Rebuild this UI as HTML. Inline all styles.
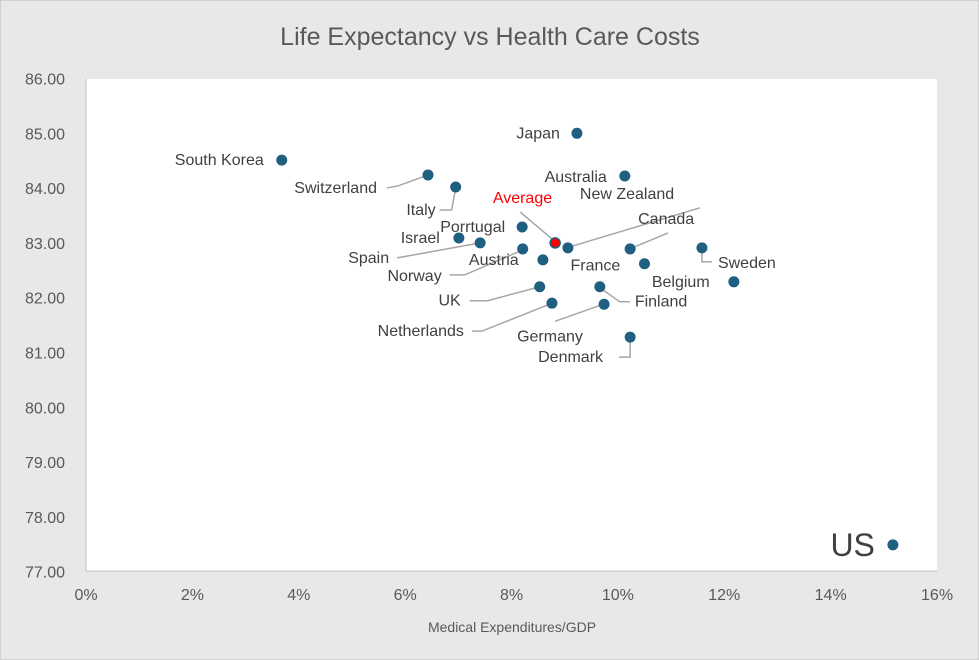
<!DOCTYPE html>
<html><head><meta charset="utf-8"><style>
html,body{margin:0;padding:0;background:#e8e8e8;}
svg{display:block;font-family:"Liberation Sans",sans-serif;}
</style></head><body>
<svg width="979" height="660">
<rect x="0.5" y="0.5" width="978" height="659" fill="#e8e8e8" stroke="#d0d0d0"/>
<text x="490" y="45" text-anchor="middle" font-size="25" fill="#595959">Life Expectancy vs Health Care Costs</text>
<rect x="86" y="79" width="851" height="492" fill="#fff"/>
<line x1="86" y1="79" x2="86" y2="571" stroke="#bfbfbf"/>
<line x1="86" y1="571" x2="937" y2="571" stroke="#bfbfbf"/>
<g id="ticks"></g>
<g id="leaders"></g>
<g id="points"></g>
<g id="labels"></g>
<text x="512" y="632" text-anchor="middle" font-size="14" fill="#595959">Medical Expenditures/GDP</text>
</svg>
<script>
const countries=["South Korea","Switzerland","Italy","Japan","Australia","Porrtugal","Israel","Spain","Average","New Zealand","Norway","Austria","Canada","Sweden","France","Belgium","UK","Finland","Netherlands","Germany","Denmark","US"];
const spend=[3.68,6.43,6.95,9.23,10.13,8.2,7.01,7.41,8.82,9.06,8.21,8.59,10.23,11.58,10.5,12.18,8.53,9.66,8.76,9.74,10.23,15.17];
const life=[84.51,84.24,84.02,85.0,84.22,83.29,83.09,83.0,83.0,82.91,82.89,82.69,82.89,82.91,82.62,82.29,82.2,82.2,81.9,81.88,81.28,77.49];
const xTicks=[0,2,4,6,8,10,12,14,16];
const yTicks=[77,78,79,80,81,82,83,84,85,86];
const X=v=>86+v*53.19, Y=v=>78.5+(86-v)*54.8;
const NS="http://www.w3.org/2000/svg";
function mk(t,a,p){const e=document.createElementNS(NS,t);for(const k in a)e.setAttribute(k,a[k]);document.getElementById(p).appendChild(e);return e;}
xTicks.forEach(v=>{const t=mk("text",{x:X(v),y:600,"text-anchor":"middle","font-size":16,fill:"#595959"},"ticks");t.textContent=v+"%";

});
yTicks.forEach(v=>{const t=mk("text",{x:65,y:Y(v)+6,"text-anchor":"end","font-size":16,fill:"#595959"},"ticks");t.textContent=v.toFixed(2);

});
// label placement: [dx,dy,anchor, leader offsets relative to point or null]
const place={
"South Korea":[-18,5,"end",null],
"Switzerland":[-51,18,"end",[[-41,13],[-30,11],[0,0]]],
"Italy":[-20,28,"end",[[-16,23],[-4,23],[0,1]]],
"Japan":[-17,5,"end",null],
"Australia":[-18,6,"end",null],
"Porrtugal":[-17,5,"end",null],
"Israel":[-19,5,"end",null],
"Spain":[-91,20,"end",[[-83,15],[0,0]]],
"Average":[-3,-40,"end",[[-35,-31],[-2,-3]]],
"New Zealand":[12,-49,"start",[[132,-40],[2,-1]]],
"Norway":[-81,32,"end",[[-73,26],[-58,26],[0,1]]],
"Austria":[-74,5,"start",null],
"Canada":[8,-25,"start",[[38,-16],[2,-1]]],
"Sweden":[16,20,"start",[[0,2],[0,14],[10,14]]],
"France":[-74,7,"start",null],
"Belgium":[-82,5,"start",null],
"UK":[-79,19,"end",[[-70,14],[-52,14],[0,0]]],
"Finland":[35,20,"start",[[0,1],[20,15],[30,15]]],
"Netherlands":[-88,33,"end",[[-80,28],[-70,28],[0,0]]],
"Germany":[-87,37,"start",[[-49,17],[-1,0]]],
"Denmark":[-92,25,"start",[[-11,20],[0,20],[0,1]]],
"US":[-18,11,"end",null]};
countries.forEach((c,i)=>{
const px=X(spend[i]),py=Y(life[i]);const p=place[c];
if(p[3]){const pts=p[3].map(o=>(px+o[0])+","+(py+o[1])).join(" ");
const l=mk("polyline",{points:pts,fill:"none",stroke:"#a6a6a6","stroke-width":1.5},"leaders");

}
const avg=c==="Average";
const d=mk("circle",{cx:px,cy:py,r:avg?5:5.5,fill:avg?"#ff0000":"#1f5f80",stroke:avg?"#1f5f80":"none","stroke-width":1.5},"points");


const t=mk("text",{x:px+p[0],y:py+p[1],"text-anchor":p[2],"font-size":c==="US"?32:16,fill:avg?"#ff0000":"#404040"},"labels");
t.textContent=c;


});
</script>
</body></html>
